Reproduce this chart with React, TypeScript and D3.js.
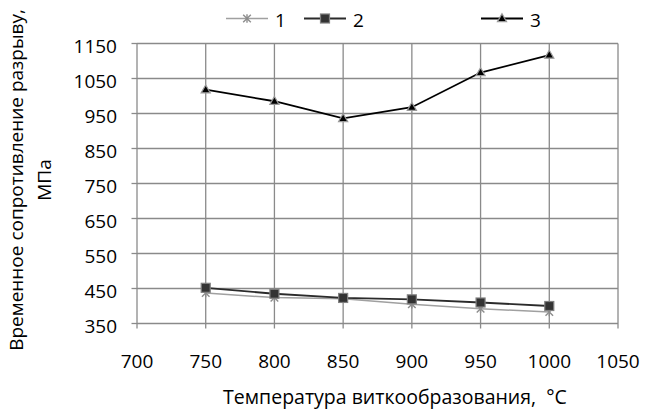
import React from "react";
import * as d3 from "d3";

const temperatures = [750, 800, 850, 900, 950, 1000];
const series1 = [437, 424, 421, 405, 392, 383];
const series2 = [452, 435, 423, 419, 410, 400];
const series3 = [1018, 985, 936, 968, 1067, 1117];
const seriesNames = ["1", "2", "3"];
const xTicks = [700, 750, 800, 850, 900, 950, 1000, 1050];
const yTicks = [350, 450, 550, 650, 750, 850, 950, 1050, 1150];
const xTitle = "Температура виткообразования,\u00A0\u00A0°C";
const yTitleLines = ["Временное сопротивление разрыву,", "МПа"];

const W = 645;
const H = 412;
const FONT = "'Open Sans', 'Liberation Sans', sans-serif";

function Marker({ kind, x, y }: { kind: number; x: number; y: number }) {
  if (kind === 0) {
    const r = 3.8;
    return (
      <g stroke="#8c8c8c" strokeWidth={1.4}>
        <line x1={x - r} y1={y - r} x2={x + r} y2={y + r} />
        <line x1={x - r} y1={y + r} x2={x + r} y2={y - r} />
        <line x1={x} y1={y - r - 0.5} x2={x} y2={y + r + 0.5} />
      </g>
    );
  }
  if (kind === 1) {
    const s = 9;
    return (
      <rect x={x - s / 2} y={y - s / 2} width={s} height={s} fill="#333" stroke="#808080" strokeWidth={1.2} />
    );
  }
  const sym = d3.symbol().type(d3.symbolTriangle).size(36)();
  return <path d={sym || ""} transform={`translate(${x},${y + 0.5})`} fill="#000" stroke="#9a9a9a" strokeWidth={1.2} />;
}

export default function App() {
  const x = d3.scaleLinear().domain([700, 1050]).range([137, 618]);
  const y = d3.scaleLinear().domain([350, 1150]).range([323.5, 43.5]);
  const all = [series1, series2, series3];
  const lineColors = ["#a0a0a0", "#2b2b2b", "#000"];
  const lineGen = d3
    .line<number>()
    .x((_, i) => x(temperatures[i]))
    .y((d) => y(d));
  const legendX = [226, 304, 481];
  const grid = "#8a8a8a";

  return (
    <svg width={W} height={H} style={{ position: "absolute", left: 0, top: 0, background: "#fff" }} fontFamily={FONT}>
      {/* gridlines */}
      {yTicks.map((t) => (
        <line key={"gy" + t} x1={x(700)} x2={x(1050)} y1={y(t)} y2={y(t)} stroke={grid} strokeWidth={1.3} />
      ))}
      {xTicks.map((t) => (
        <line key={"gx" + t} x1={x(t)} x2={x(t)} y1={y(1150)} y2={y(350) + 5} stroke={grid} strokeWidth={1.3} />
      ))}
      {yTicks.map((t) => (
        <line key={"ty" + t} x1={x(700) - 5.5} x2={x(700)} y1={y(t)} y2={y(t)} stroke={grid} strokeWidth={1.3} />
      ))}
      {/* tick labels */}
      {yTicks.map((t) => (
        <text key={"ly" + t} x={117} y={y(t) + 9} textAnchor="end" fontSize={19} fill="#000">
          {t}
        </text>
      ))}
      {xTicks.map((t) => (
        <text key={"lx" + t} x={x(t)} y={368} textAnchor="middle" fontSize={19} fill="#000">
          {t}
        </text>
      ))}
      {/* series */}
      {all.map((s, si) => (
        <g key={"s" + si}>
          <path d={lineGen(s) || ""} fill="none" stroke={lineColors[si]} strokeWidth={si === 0 ? 1.5 : 1.8} />
          {s.map((v, i) => (
            <Marker key={i} kind={si} x={x(temperatures[i])} y={y(v)} />
          ))}
        </g>
      ))}
      {/* legend */}
      {seriesNames.map((n, si) => (
        <g key={"lg" + si}>
          <line x1={legendX[si]} x2={legendX[si] + 42} y1={18.5} y2={18.5} stroke={lineColors[si]} strokeWidth={si === 0 ? 1.5 : 1.8} />
          <Marker kind={si} x={legendX[si] + 21} y={18.5} />
          <text x={legendX[si] + 49} y={26.5} fontSize={19} fill="#000">
            {n}
          </text>
        </g>
      ))}
      {/* axis titles */}
      <text x={395} y={404} textAnchor="middle" fontSize={19.5} fill="#000">
        {xTitle}
      </text>
      <g transform="translate(0,180) rotate(-90)">
        <text x={0} y={23} textAnchor="middle" fontSize={19} fill="#000">
          {yTitleLines[0]}
        </text>
        <text x={0} y={51} textAnchor="middle" fontSize={19} fill="#000">
          {yTitleLines[1]}
        </text>
      </g>
    </svg>
  );
}
